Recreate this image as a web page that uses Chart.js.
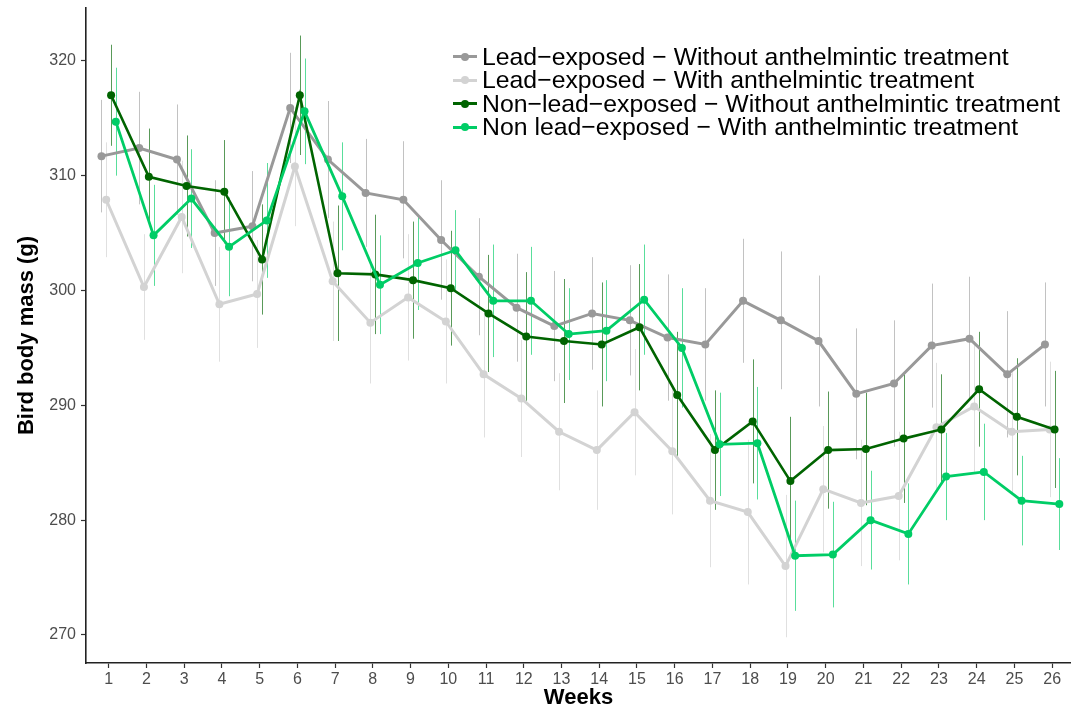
<!DOCTYPE html>
<html>
<head>
<meta charset="utf-8">
<script src="https://cdn.jsdelivr.net/npm/chart.js@4.4.1/dist/chart.umd.min.js"></script>
<style>
  body { margin: 0; background: #fff; }
  #wrap { position: relative; width: 1071px; height: 708px; }
  #legend {
    position: absolute; left: 452px; top: 45px;
    font-family: "Liberation Sans", Arial, Helvetica, sans-serif;
    font-size: 24.8px; color: #000;
  }
  .row { display: flex; align-items: center; height: 23.5px; white-space: nowrap; }
  .key { position: relative; width: 26px; height: 23.5px; margin-right: 4px; }
  .key .ln { position: absolute; left: 1px; right: 1px; top: 10px; height: 3px; }
  .key .dot { position: absolute; left: 9px; top: 7.5px; width: 8px; height: 8px; border-radius: 50%; }
</style>
</head>
<body>
<div id="wrap">
  <canvas id="chart" width="1071" height="708"></canvas>
  <div id="legend"></div>
</div>
<script>
// Weeks on the x axis
const weeks = [1, 2, 3, 4, 5, 6, 7, 8, 9, 10, 11, 12, 13, 14, 15, 16, 17, 18, 19, 20, 21, 22, 23, 24, 25, 26];
const yTicks = [270, 280, 290, 300, 310, 320];

const seriesNames = [
    'Lead\u2212exposed \u2212 Without anthelmintic treatment',
    'Lead\u2212exposed \u2212 With anthelmintic treatment',
    'Non\u2212lead\u2212exposed \u2212 Without anthelmintic treatment',
    'Non lead\u2212exposed \u2212 With anthelmintic treatment'
];

// mean body mass (g) per week
const leadNoTreat = [311.7, 312.4, 311.4, 305.0, 305.6, 315.9, 311.4, 308.5, 307.9, 304.4, 301.2, 298.5, 296.9,
    298.0, 297.4, 295.9, 295.3, 299.1, 297.4, 295.6, 291.0, 291.9, 295.2, 295.8, 292.7, 295.3];
const leadTreat = [307.9, 300.3, 306.4, 298.8, 299.7, 310.8, 300.8, 297.2, 299.4, 297.3, 292.7, 290.6, 287.7,
    286.1, 289.4, 286.0, 281.7, 280.7, 276.0, 282.7, 281.5, 282.1, 288.1, 289.9, 287.7, 287.9];
const noLeadNoTreat = [317.0, 309.9, 309.1, 308.6, 302.7, 317.0, 301.5, 301.4, 300.9, 300.2, 298.0, 296.0, 295.6,
    295.3, 296.8, 290.9, 286.1, 288.6, 283.4, 286.1, 286.2, 287.1, 287.9, 291.4, 289.0, 287.9];
const noLeadTreat = [314.7, 304.8, 308.0, 303.8, 306.1, 315.6, 308.2, 300.5, 302.4, 303.5, 299.1, 299.1, 296.2,
    296.5, 299.2, 295.0, 286.6, 286.7, 276.9, 277.0, 280.0, 278.8, 283.8, 284.2, 281.7, 281.4];

// error bar half-lengths (g)
const leadNoTreatErr = [4.9, 4.9, 4.8, 4.6, 4.8, 4.8, 5.1, 4.7, 5.1, 5.2, 5.1, 4.7, 4.8,
    4.9, 4.8, 5.5, 4.9, 5.4, 6.0, 5.7, 5.7, 5.5, 5.4, 5.4, 5.5, 5.4];
const leadTreatErr = [5.0, 4.6, 4.9, 5.0, 4.7, 5.2, 5.2, 5.3, 5.5, 5.4, 5.5, 5.1, 5.1,
    5.2, 5.5, 5.5, 5.8, 6.3, 6.2, 5.5, 5.5, 5.6, 5.6, 5.7, 5.5, 5.9];
const noLeadNoTreatErr = [4.4, 4.2, 4.4, 4.5, 4.8, 5.2, 5.9, 5.2, 5.1, 5.0, 5.1, 5.6, 5.4,
    5.4, 5.5, 5.5, 5.2, 5.4, 5.6, 5.1, 4.9, 5.6, 4.8, 5.0, 5.1, 5.1];
const noLeadTreatErr = [4.7, 4.4, 4.3, 4.3, 5.0, 4.6, 4.7, 4.3, 4.1, 3.5, 4.9, 4.7, 4.0,
    4.4, 4.8, 5.2, 4.5, 4.9, 4.8, 4.6, 4.3, 4.4, 3.8, 4.2, 3.9, 4.0];

const seriesValues = [leadNoTreat, leadTreat, noLeadNoTreat, noLeadTreat];
const seriesErrors = [leadNoTreatErr, leadTreatErr, noLeadNoTreatErr, noLeadTreatErr];

const lineColors = ['#999999', '#d3d3d3', '#006400', '#00cd66'];
const errColors = ['rgba(153,153,153,0.6)', 'rgba(211,211,211,0.7)', 'rgba(0,100,0,0.65)', 'rgba(0,205,102,0.65)'];
const lineWidths = [3, 3, 2.6, 2.8];
const dodge = [-0.19, -0.065, 0.065, 0.19];

const datasets = seriesValues.map((vals, i) => ({
    label: seriesNames[i],
    data: vals.map((v, j) => ({ x: weeks[j] + dodge[i], y: v, err: seriesErrors[i][j] })),
    borderColor: lineColors[i],
    backgroundColor: lineColors[i],
    borderWidth: lineWidths[i],
    pointRadius: 4,
    pointBorderWidth: 0,
    pointHoverRadius: 4,
    tension: 0,
    errColor: errColors[i],
    order: 3 - i
}));

// vertical error bars, drawn under the lines
const errorBars = {
    id: 'errorBars',
    beforeDatasetsDraw(chart) {
        const { ctx, scales: { x, y } } = chart;
        ctx.save();
        ctx.lineWidth = 1;
        chart.data.datasets.forEach(ds => {
            ctx.strokeStyle = ds.errColor;
            ds.data.forEach(p => {
                const px = Math.round(x.getPixelForValue(p.x)) + 0.5;
                ctx.beginPath();
                ctx.moveTo(px, y.getPixelForValue(p.y - p.err));
                ctx.lineTo(px, y.getPixelForValue(p.y + p.err));
                ctx.stroke();
            });
        });
        ctx.restore();
    }
};

const tickFont = { family: '"Liberation Sans", Arial, sans-serif', size: 16 };
const titleFont = { family: '"Liberation Sans", Arial, sans-serif', size: 22, weight: 'bold', lineHeight: 0.9 };

new Chart(document.getElementById('chart'), {
    type: 'line',
    data: { datasets },
    options: {
        responsive: false,
        animation: false,
        layout: { autoPadding: false, padding: { top: 8, right: 0, bottom: 0, left: 0 } },
        plugins: { legend: { display: false }, tooltip: { enabled: false } },
        scales: {
            x: {
                type: 'linear',
                min: 0.4,
                max: 26.5,
                afterBuildTicks: s => { s.ticks = weeks.map(w => ({ value: w })); },
                afterFit: s => { s.height = 45; s.paddingLeft = 0; s.paddingRight = 0; },
                grid: { drawOnChartArea: false, drawTicks: true, tickLength: 5, tickColor: '#333333', tickWidth: 1.2 },
                border: { display: true, color: '#222222', width: 1.6 },
                ticks: { color: '#4d4d4d', font: tickFont, padding: 2, maxRotation: 0, autoSkip: false },
                title: { display: true, text: 'Weeks', color: '#000', font: titleFont, padding: { top: 0, bottom: 0 } }
            },
            y: {
                type: 'linear',
                min: 267.56,
                max: 324.6,
                afterBuildTicks: s => { s.ticks = yTicks.map(v => ({ value: v })); },
                afterFit: s => { s.width = 86; s.paddingTop = 0; s.paddingBottom = 0; },
                grid: { drawOnChartArea: false, drawTicks: true, tickLength: 5, tickColor: '#333333', tickWidth: 1.2 },
                border: { display: true, color: '#222222', width: 1.6 },
                ticks: { color: '#4d4d4d', font: tickFont, padding: 5 },
                title: { display: true, text: 'Bird body mass (g)', color: '#000', font: titleFont, padding: { top: 17, bottom: 0 } }
            }
        }
    },
    plugins: [errorBars]
});

// legend in the top right of the panel
const legend = document.getElementById('legend');
seriesNames.forEach((name, i) => {
    const row = document.createElement('div');
    row.className = 'row';
    row.innerHTML = '<span class="key"><span class="ln" style="background:' + lineColors[i] + '"></span>' +
        '<span class="dot" style="background:' + lineColors[i] + '"></span></span><span>' + name + '</span>';
    legend.appendChild(row);
});
</script>
</body>
</html>
